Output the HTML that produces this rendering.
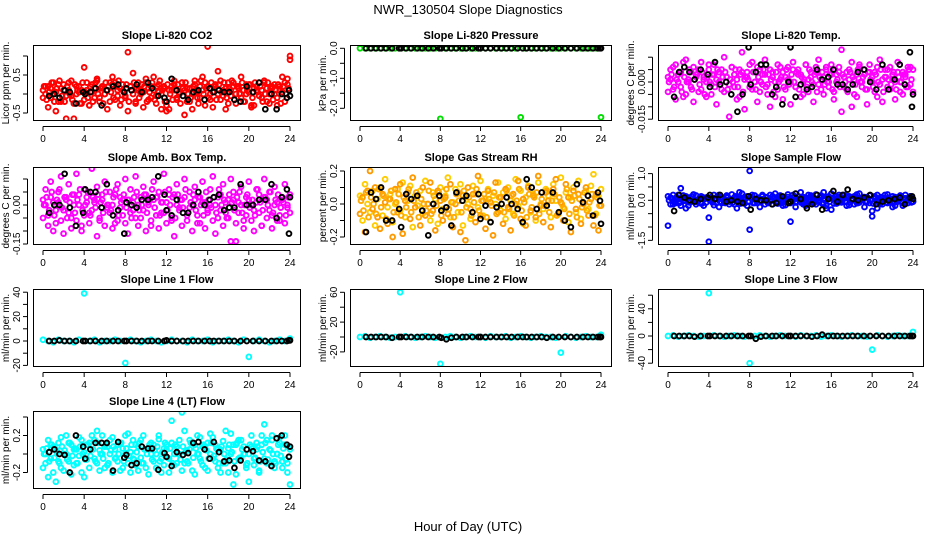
<!DOCTYPE html>
<html><head><meta charset="utf-8"><style>
html,body{margin:0;padding:0;background:#fff}
svg{display:block;font-family:"Liberation Sans",sans-serif}
</style></head><body>
<svg id="chart" width="936" height="540" viewBox="0 0 936 540" xmlns="http://www.w3.org/2000/svg">
<rect width="936" height="540" fill="#fff"/>
<text x="468" y="14" text-anchor="middle" font-size="13">NWR_130504  Slope Diagnostics</text>
<text x="468" y="531" text-anchor="middle" font-size="13">Hour of Day (UTC)</text>
</svg>
<script>
const hoursA=[0,0.25,0.5,0.75,1,1.25,1.5,1.75,2,2.25,2.5,2.75,3,3.25,3.5,3.75,4,4.25,4.5,4.75,5,5.25,5.5,5.75,6,6.25,6.5,6.75,7,7.25,7.5,7.75,8,8.25,8.5,8.75,9,9.25,9.5,9.75,10,10.25,10.5,10.75,11,11.25,11.5,11.75,12,12.25,12.5,12.75,13,13.25,13.5,13.75,14,14.25,14.5,14.75,15,15.25,15.5,15.75,16,16.25,16.5,16.75,17,17.25,17.5,17.75,18,18.25,18.5,18.75,19,19.25,19.5,19.75,20,20.25,20.5,20.75,21,21.25,21.5,21.75,22,22.25,22.5,22.75,23,23.25,23.5,23.75,24];
const hoursC=[0.1,0.35,0.6,0.85,1.1,1.35,1.6,1.85,2.1,2.35,2.6,2.85,3.1,3.35,3.6,3.85,4.1,4.35,4.6,4.85,5.1,5.35,5.6,5.85,6.1,6.35,6.6,6.85,7.1,7.35,7.6,7.85,8.1,8.35,8.6,8.85,9.1,9.35,9.6,9.85,10.1,10.35,10.6,10.85,11.1,11.35,11.6,11.85,12.1,12.35,12.6,12.85,13.1,13.35,13.6,13.85,14.1,14.35,14.6,14.85,15.1,15.35,15.6,15.85,16.1,16.35,16.6,16.85,17.1,17.35,17.6,17.85,18.1,18.35,18.6,18.85,19.1,19.35,19.6,19.85,20.1,20.35,20.6,20.85,21.1,21.35,21.6,21.85,22.1,22.35,22.6,22.85,23.1,23.35,23.6,23.85];
const flatHours=[0,0.5,1,1.5,2,2.5,3,3.5,4,4.5,5,5.5,6,6.5,7,7.5,8,8.5,9,9.5,10,10.5,11,11.5,12,12.5,13,13.5,14,14.5,15,15.5,16,16.5,17,17.5,18,18.5,19,19.5,20,20.5,21,21.5,22,22.5,23,23.5,24];
const blackHours=[0.6,1.1,1.6,2.1,2.6,3.2,3.9,4.1,4.6,5.1,5.7,6.2,6.8,7.3,7.9,8.1,8.6,9.1,9.6,10.2,10.6,11.2,11.8,12.0,12.5,13.0,13.6,14.1,14.6,15.1,15.7,16.2,16.6,17.1,17.6,18.1,18.6,19.2,19.8,20.4,21.0,21.6,22.2,22.7,23.2,23.7,23.9,24.0];
const xTicks=[0,4,8,12,16,20,24];

const co2A=[0.1,0.0,0.2,-0.1,0.3,0.05,-0.2,0.15,0.25,-0.05,0.1,0.35,-0.25,0.0,0.2,0.1,-0.15,0.3,-0.3,0.05,0.15,0.4,-0.1,0.2,0.0,0.1,-0.2,0.25,0.3,-0.05,0.15,0.1,-0.1,1.1,0.2,0.0,-0.25,0.3,0.1,0.05,0.4,-0.15,0.2,0.1,-0.05,0.25,0.0,0.15,-0.3,0.1,0.2,0.35,-0.1,0.05,0.3,0.1,-0.2,0.15,0.0,0.25,-0.1,0.2,0.1,0.3,1.25,-0.15,0.05,0.2,0.0,0.35,-0.05,0.15,-0.25,0.1,0.3,0.0,0.2,-0.1,0.1,0.25,0.05,-0.3,0.15,0.2,-0.05,0.1,0.3,-0.2,0.0,0.15,0.25,-0.1,0.2,0.05,0.3,0.4,1.0];
const co2B=[-0.1,0.2,-0.35,0.15,0.0,-0.45,0.25,-0.2,0.1,-0.65,0.3,-0.05,-0.65,0.2,0.05,-0.25,0.7,0.1,-0.3,0.25,-0.1,0.35,-0.2,0.15,0.0,-0.4,0.3,0.45,-0.15,0.1,-0.3,0.25,-0.05,-0.45,0.2,0.55,-0.2,0.1,0.0,-0.35,0.3,0.15,-0.1,0.45,-0.25,0.05,-0.4,0.2,-0.45,-0.4,0.1,0.25,-0.15,0.0,0.3,-0.55,0.15,-0.2,-0.4,0.35,0.05,-0.1,0.45,-0.3,0.2,0.0,-0.35,0.25,0.6,-0.15,0.1,-0.4,0.3,-0.05,0.2,-0.25,0.15,0.45,-0.2,0.0,0.25,-0.35,-0.3,0.1,0.3,-0.1,0.35,0.15,-0.25,0.2,0.0,-0.3,0.1,0.45,-0.2,0.25,0.9];
const co2C=[0.2,-0.15,0.05,0.3,-0.2,0.15,0.35,-0.05,-0.2,0.2,0.0,-0.15,0.25,0.1,-0.25,0.3,0.05,-0.1,0.2,-0.2,0.3,0.0,0.15,-0.25,0.3,0.2,0.05,-0.1,0.2,0.35,-0.15,0.05,0.25,-0.2,0.1,0.3,0.15,-0.1,0.25,0.2,-0.2,0.05,0.3,-0.15,0.2,0.35,0.1,-0.2,0.25,0.0,-0.15,0.1,0.25,-0.25,0.15,0.3,0.0,-0.1,0.2,0.1,-0.25,0.35,0.0,0.15,-0.1,0.3,0.2,-0.15,0.25,0.05,0.3,-0.1,0.15,0.35,-0.15,0.2,0.0,0.3,-0.2,0.1,0.25,-0.1,0.3,0.05,0.2,-0.2,0.0,0.3,0.15,-0.15,0.1,0.25,-0.25,0.2,0.0,0.15];
const co2Black=[-0.05,0.0,-0.1,0.1,0.05,-0.25,0.05,0.0,0.05,0.15,-0.3,0.1,0.2,0.25,0.05,0.15,0.1,0.25,0.05,0.3,0.15,-0.05,-0.1,-0.2,0.4,0.1,-0.05,-0.15,0.05,0.1,-0.15,0.15,0.05,0.1,0.05,0.05,-0.15,-0.2,0.2,0.05,0.3,-0.4,0.0,-0.4,0.0,-0.1,0.1,-0.05];

const presGreen=[0,0,0,0,0,0,0,0,0,0,0,0,0,0,0,0,-2.35,0,0,0,0,0,0,0,0,0,0,0,0,0,0,0,-2.3,0,0,0,0,0,0,0,0,0,0,0,0,0,0,0,-2.3];
const presBlack=[0,0,0,0,0,0,0,0,0,0,0,0,0,0,0,0,0,0,0,0,0,0,0,0,0,0,0,0,0,0,0,0,0,0,0,0,0,0,0,0,0,0,0,0,0,0,0,0];

const tempA=[0.002,0.005,-0.003,0.007,0.000,0.004,-0.006,0.009,0.001,-0.002,0.006,0.003,-0.004,0.008,0.002,0.000,0.005,-0.005,0.007,0.001,0.004,-0.003,0.010,0.002,-0.001,0.006,0.003,-0.007,0.005,0.012,0.001,0.004,-0.002,0.008,0.000,0.006,-0.004,0.003,0.009,-0.001,0.005,0.002,-0.006,0.007,0.001,0.004,-0.003,0.006,0.000,0.008,-0.002,0.005,0.003,-0.005,0.007,0.001,0.004,-0.001,0.006,0.009,-0.003,0.002,0.005,0.000,0.007,-0.004,0.003,0.006,0.013,-0.002,0.004,0.001,0.008,-0.005,0.003,0.006,0.000,0.005,-0.003,0.007,0.002,0.004,-0.006,0.009,0.001,0.005,-0.002,0.006,0.003,0.000,0.008,-0.004,0.004,0.002,0.006,-0.001,0.005];
const tempB=[-0.004,0.001,0.006,-0.007,0.003,-0.002,0.008,-0.005,0.000,0.004,-0.008,0.002,0.005,-0.003,0.001,-0.006,0.007,-0.001,0.003,-0.009,0.000,0.005,-0.004,0.002,-0.014,0.006,-0.002,0.001,-0.006,0.004,-0.011,0.002,0.007,-0.003,0.000,-0.008,0.005,-0.001,0.003,-0.005,-0.010,0.004,0.000,-0.003,0.006,-0.007,0.002,0.001,-0.009,0.005,-0.002,0.003,-0.006,0.000,0.007,-0.004,0.002,-0.008,0.004,-0.001,0.001,-0.005,0.006,-0.002,0.003,-0.007,0.000,0.004,-0.012,0.002,-0.003,0.005,-0.010,0.001,-0.006,0.007,-0.002,0.003,-0.009,0.004,0.000,-0.004,0.006,-0.001,-0.008,0.002,0.005,-0.003,0.001,-0.007,0.004,0.000,-0.005,0.003,-0.002,0.006,-0.004];
const tempC=[0.000,0.003,-0.002,0.001,0.004,-0.004,0.002,0.000,0.005,-0.003,0.001,0.003,-0.001,0.004,-0.005,0.002,0.000,0.003,-0.002,0.005,-0.001,0.002,0.004,-0.003,0.001,0.000,0.005,-0.002,0.003,-0.004,0.002,0.001,-0.001,0.004,-0.003,0.002,0.000,0.005,-0.002,0.003,0.001,-0.004,0.004,0.000,0.002,-0.002,0.005,-0.001,0.003,0.000,0.004,-0.003,0.002,0.001,-0.002,0.005,0.000,0.003,-0.004,0.002,0.004,-0.001,0.000,0.003,-0.003,0.005,0.001,-0.002,0.003,0.000,-0.004,0.004,0.002,-0.001,0.005,0.000,0.002,-0.003,0.004,0.001,-0.002,0.003,0.000,0.005,-0.004,0.002,0.001,-0.001,0.004,-0.003,0.002,0.000,0.003,-0.002,0.005,0.001,-0.001];
const tempBlack=[-0.006,0.004,0.006,0.004,0.001,0.005,0.003,-0.002,0.008,-0.001,0.000,-0.005,-0.012,-0.005,0.014,-0.001,0.004,0.007,0.007,-0.005,-0.002,-0.009,0.000,0.014,-0.006,-0.001,-0.003,-0.002,0.005,0.001,0.002,0.005,-0.001,-0.001,-0.003,-0.001,0.004,0.005,0.000,-0.003,0.007,-0.003,0.001,0.007,-0.001,0.012,-0.010,-0.005];

const ambA=[0.02,0.06,-0.04,0.09,0.01,-0.07,0.05,0.11,-0.02,0.03,0.08,-0.05,0.0,0.12,0.04,-0.08,0.06,0.01,-0.03,0.14,0.02,0.07,-0.06,0.04,0.09,-0.01,0.05,0.0,-0.07,0.08,0.03,-0.04,0.10,0.02,0.06,-0.02,0.11,0.0,-0.05,0.07,0.04,0.01,-0.08,0.09,0.03,0.05,-0.03,0.12,0.01,0.06,-0.06,0.04,0.08,-0.01,0.02,0.10,-0.04,0.05,0.0,0.07,-0.07,0.03,0.09,0.01,-0.02,0.06,0.11,0.0,-0.05,0.04,0.08,-0.03,0.02,0.10,0.05,-0.14,0.01,0.07,-0.06,0.03,0.09,0.0,-0.02,0.06,0.04,-0.08,0.1,0.02,0.05,-0.04,0.07,0.01,-0.06,0.03,0.08,0.0,0.04];
const ambB=[-0.05,0.0,-0.08,0.03,-0.1,-0.02,0.01,-0.06,-0.11,0.02,-0.03,-0.09,0.04,-0.06,0.0,-0.1,-0.04,0.03,-0.07,-0.02,0.01,-0.12,-0.05,0.02,-0.08,0.0,-0.03,-0.09,0.04,-0.06,-0.01,0.02,-0.07,-0.11,-0.03,0.01,-0.05,-0.08,0.03,-0.02,-0.1,0.0,-0.06,0.02,-0.04,-0.09,0.01,-0.03,-0.07,0.04,-0.05,-0.12,0.0,-0.02,-0.08,0.03,-0.06,-0.01,-0.1,0.02,-0.04,-0.07,0.01,-0.09,-0.03,0.0,-0.06,-0.11,0.03,-0.02,-0.08,0.01,-0.05,-0.14,0.02,-0.07,-0.03,0.0,-0.09,-0.04,0.02,-0.06,-0.1,0.01,-0.03,-0.08,0.03,-0.05,-0.02,-0.09,0.0,-0.06,-0.04,0.02,-0.07,-0.01,-0.03];
const ambC=[0.0,0.03,-0.02,0.05,-0.04,0.02,0.06,-0.01,0.03,-0.05,0.01,0.04,-0.03,0.02,0.06,-0.02,0.0,0.05,-0.04,0.03,-0.01,0.04,0.01,-0.03,0.05,0.0,-0.02,0.03,0.06,-0.04,0.01,0.04,-0.01,0.02,-0.05,0.03,0.05,-0.02,0.0,0.04,-0.03,0.02,0.06,-0.01,0.03,-0.04,0.01,0.05,-0.02,0.0,0.03,-0.05,0.04,0.02,-0.01,0.06,-0.03,0.01,0.04,-0.02,0.03,0.0,-0.04,0.05,0.02,-0.01,0.03,-0.03,0.06,0.0,0.02,-0.05,0.04,0.01,-0.02,0.03,0.05,-0.03,0.0,0.04,-0.01,0.02,-0.04,0.06,0.01,-0.02,0.03,0.0,0.05,-0.03,0.02,0.04,-0.01,0.01,-0.04,0.03,0.0];
const ambBlack=[-0.03,0.0,0.0,0.12,-0.01,-0.08,-0.03,0.06,0.05,0.05,-0.01,0.08,-0.04,-0.02,-0.11,0.01,0.0,-0.01,0.02,0.02,0.03,0.11,0.04,-0.02,-0.04,0.02,-0.03,-0.03,0.0,0.05,0.0,0.02,0.03,0.04,-0.02,-0.01,-0.01,0.08,0.0,0.0,0.02,0.02,0.08,-0.05,0.03,0.06,-0.11,0.03];

const rhA=[0.05,-0.1,0.12,0.0,-0.05,0.08,-0.13,0.03,0.1,-0.07,0.15,-0.02,0.06,-0.11,0.0,0.09,-0.04,0.13,-0.08,0.02,0.11,-0.14,0.05,-0.01,0.08,-0.06,0.14,0.0,-0.1,0.07,0.03,-0.12,0.1,-0.03,0.05,0.16,-0.08,0.01,0.09,-0.05,0.12,-0.13,0.04,0.0,-0.09,0.11,0.06,-0.02,0.14,-0.07,0.03,0.09,-0.11,0.05,0.0,0.13,-0.04,0.07,-0.09,0.1,0.02,-0.06,0.15,-0.01,0.08,-0.12,0.04,0.11,-0.05,0.06,-0.1,0.13,0.0,-0.03,0.09,0.05,-0.08,0.12,0.02,-0.06,0.16,-0.02,0.07,-0.11,0.04,0.1,-0.05,0.14,-0.09,0.01,0.08,-0.03,0.11,0.18,-0.06,0.05,0.09];
const rhB=[-0.06,0.04,-0.17,0.08,0.2,-0.03,0.1,-0.08,-0.15,0.06,0.01,-0.12,0.03,-0.2,0.09,-0.05,0.12,-0.18,0.02,0.07,-0.09,0.16,-0.02,0.05,-0.13,0.1,-0.07,0.0,0.13,-0.04,-0.16,0.08,0.02,-0.1,0.04,-0.06,0.12,-0.14,0.0,0.07,-0.17,0.05,-0.22,0.1,-0.03,0.06,-0.11,0.17,-0.07,0.02,-0.15,0.08,0.01,-0.19,0.13,-0.05,0.04,-0.12,0.09,-0.02,-0.16,0.06,0.0,0.14,-0.09,0.03,-0.13,0.1,-0.04,0.05,-0.08,0.17,-0.01,-0.11,0.07,0.02,-0.14,0.09,0.15,-0.06,0.01,-0.1,0.12,0.04,-0.17,0.08,-0.03,0.06,-0.12,0.0,0.1,-0.07,0.03,-0.13,0.06,-0.16,-0.01];
const rhC=[0.02,-0.04,0.07,-0.08,0.04,0.0,-0.06,0.09,-0.02,0.05,-0.09,0.03,0.08,-0.05,0.01,0.06,-0.07,0.04,-0.02,0.09,-0.05,0.02,0.07,-0.08,0.03,0.0,-0.04,0.08,-0.06,0.05,-0.01,0.07,-0.07,0.03,0.09,-0.03,0.01,-0.08,0.06,0.02,-0.05,0.08,-0.02,0.04,-0.07,0.01,0.09,-0.04,0.02,0.06,-0.08,0.03,-0.01,0.07,-0.06,0.04,0.0,-0.05,0.08,-0.03,0.05,-0.07,0.02,0.09,-0.04,0.01,-0.08,0.06,-0.02,0.04,0.07,-0.06,0.03,-0.01,0.08,-0.05,0.02,0.06,-0.07,0.04,0.0,-0.03,0.09,-0.06,0.02,0.05,-0.08,0.03,-0.02,0.07,-0.04,0.01,0.06,-0.07,0.04,-0.01];
const rhBlack=[-0.17,0.07,0.03,0.1,-0.1,-0.1,-0.03,-0.14,0.06,0.03,0.05,-0.04,-0.19,0.0,0.05,-0.04,-0.02,-0.13,0.07,0.02,0.05,-0.05,0.06,-0.09,-0.01,-0.11,-0.02,0.0,0.04,0.0,-0.03,-0.11,0.15,0.1,-0.03,0.07,-0.01,0.07,-0.05,-0.1,-0.14,0.12,0.01,0.05,-0.07,0.07,0.02,-0.12];

const sampA=[-0.95,0.1,-0.15,0.05,0.2,0.45,0.0,0.15,-0.2,0.08,-0.05,0.18,0.02,-0.12,0.1,-0.08,-0.65,0.12,-0.18,0.05,0.2,-0.1,0.0,0.15,-0.05,0.22,-0.15,0.08,0.3,-0.02,0.12,-0.2,1.1,0.05,0.18,-0.1,0.0,0.2,-0.15,0.1,-0.05,0.15,0.25,-0.12,0.08,0.0,-0.18,0.12,-0.8,0.2,-0.08,0.05,0.3,-0.15,0.1,0.0,0.18,-0.1,0.22,-0.05,0.12,0.3,-0.2,0.05,0.25,-0.12,0.15,0.0,-0.08,0.2,0.1,-0.18,0.05,0.15,-0.1,0.25,0.0,0.12,-0.05,0.18,-0.6,0.08,0.2,-0.15,0.1,0.0,0.22,-0.08,0.15,-0.2,0.05,0.12,-0.1,0.2,0.0,0.15,-0.05];
const sampB=[0.15,-0.15,0.2,-0.1,0.05,-0.2,0.18,-0.3,0.1,-0.05,0.22,-0.15,0.0,0.15,-0.2,0.08,-1.55,0.0,0.2,-0.1,-0.25,0.12,-0.05,0.18,-0.15,0.0,0.1,-0.3,0.05,0.25,-0.12,0.15,-1.1,0.2,-0.1,0.05,-0.25,0.15,0.0,-0.08,0.2,-0.15,0.1,-0.05,0.18,-0.2,0.05,0.22,-0.1,0.0,-0.25,0.15,-0.08,0.12,-0.2,0.2,-0.05,0.1,-0.15,0.0,0.18,-0.1,-0.3,0.15,-0.35,0.08,-0.12,0.2,-0.05,0.1,-0.2,0.15,0.0,-0.15,0.22,-0.08,0.05,-0.25,0.12,-0.1,-0.4,0.15,-0.3,0.05,-0.15,0.2,-0.1,0.0,-0.25,0.12,-0.05,0.18,-0.2,0.08,-0.1,0.15,-0.05];
const sampC=[0.0,0.08,-0.05,0.12,-0.1,0.05,-0.02,0.1,-0.08,0.15,0.0,-0.06,0.1,-0.12,0.05,0.12,0.0,-0.08,0.08,0.15,-0.05,0.05,-0.1,0.1,0.02,-0.08,0.15,0.0,-0.12,0.08,0.05,-0.05,0.12,-0.1,0.02,0.1,-0.06,0.05,0.12,-0.1,0.0,0.08,-0.05,0.15,-0.1,0.1,0.02,-0.08,0.05,0.12,-0.05,0.0,0.1,-0.1,0.08,-0.02,0.15,-0.08,0.05,0.1,-0.12,0.0,0.12,-0.05,0.08,0.02,-0.1,0.12,0.0,-0.06,0.15,-0.08,0.05,0.1,-0.1,0.02,0.12,-0.05,0.08,0.0,-0.12,0.1,-0.05,0.12,0.02,-0.08,0.1,0.05,-0.1,0.0,0.12,-0.06,0.08,-0.02,0.1,-0.08];
const sampBlack=[-0.4,0.2,0.1,0.0,-0.05,0.05,0.1,0.2,0.05,0.2,-0.05,0.0,-0.05,-0.1,0.15,-0.35,0.05,0.0,0.0,-0.15,-0.1,0.15,-0.1,-0.05,0.25,0.05,-0.3,-0.15,0.2,-0.35,0.05,0.35,-0.05,0.2,0.4,0.05,0.0,0.1,0.2,-0.15,-0.05,0.0,0.05,0.1,-0.15,0.1,0.15,0.05];

const line1Cyan=[1,0,-1,1,0,0,-1,1,39,0,1,-1,0,0,1,0,-18,1,0,-1,0,1,0,-1,0,1,0,0,-1,1,0,0,1,-1,0,0,1,0,-1,1,-13,0,1,0,-1,0,1,0,2];
const line1Black=[0,0,0.5,0,0,0,0,0,0,0,0,0,0,0,0,0,0,0,0,0,0,0,0,0.5,0,0,0,0,0,0,0,0,0,0,0,0,0,0,0,0,0,0,0,0,0,0,0.5,0.5];
const line2Cyan=[0,1,-1,0,1,0,-1,0,60,1,0,-1,0,1,0,-1,-36,0,1,0,-1,0,1,0,0,-1,1,0,0,1,-1,0,1,0,-1,0,1,0,0,-1,-21,1,0,-1,0,1,0,0,3];
const line2Black=[0,0,0,0,0,-1,0,0,0,0,0,0,0,0,0,-1,-3,-1,0,0,0,0,0,0,0,0,0,0,0,0,0,0,0,0,0,0,-1,0,0,0,0,0,0,0,0,0,0,0];
const line3Cyan=[0,1,-1,0,1,0,-1,0,63,1,0,-1,0,1,0,-1,-40,0,1,0,-1,0,1,0,0,-1,1,0,0,1,-1,0,1,0,-1,0,1,0,0,-1,-20,1,0,-1,0,1,0,0,6];
const line3Black=[0,0,0,0,-1,0,0,0,0,0,0,0,0,0,0,0,-4,-1,0,0,0,0,0,0,0,0,0,-1,0,2,0,0,0,0,0,0,0,0,0,0,0,0,0,0,0,0,0,0];

const line4A=[0.05,-0.1,0.15,-0.05,0.08,-0.3,0.12,-0.15,0.0,0.2,-0.08,0.1,-0.12,0.05,0.18,-0.2,0.02,-0.06,0.12,-0.42,0.15,-0.1,0.04,0.2,-0.15,0.08,0.0,0.18,-0.05,0.1,-0.18,0.06,0.2,-0.1,0.02,0.15,-0.12,0.08,-0.04,0.2,-0.15,0.05,0.12,-0.08,0.0,0.16,-0.2,0.06,0.1,-0.05,0.36,-0.12,0.08,0.0,0.45,-0.1,0.04,0.15,-0.18,0.1,0.2,-0.05,0.08,-0.15,0.12,0.0,0.18,-0.08,0.05,-0.2,0.14,-0.1,0.06,0.22,-0.33,0.1,-0.05,0.15,0.0,-0.12,-0.3,0.08,-0.05,0.12,-0.18,0.2,0.32,-0.1,0.05,0.15,-0.08,0.0,0.18,-0.15,0.1,-0.2,-0.33];
const line4B=[-0.15,0.0,-0.25,0.1,-0.2,0.05,-0.08,0.18,-0.18,0.0,0.12,-0.22,0.05,-0.1,-0.02,0.15,-0.25,0.1,-0.15,0.2,-0.05,0.25,-0.18,0.0,0.08,-0.12,0.15,-0.2,0.05,-0.08,0.12,-0.15,0.0,0.22,-0.2,-0.05,0.1,-0.18,0.15,-0.1,0.05,-0.22,0.0,0.1,-0.15,0.2,-0.05,-0.12,0.05,-0.2,0.12,0.0,-0.1,0.15,-0.18,0.25,-0.08,0.05,0.12,-0.22,0.0,0.18,-0.12,0.08,-0.18,0.22,-0.05,0.1,-0.15,0.05,-0.1,0.25,-0.2,0.0,0.1,-0.22,0.15,-0.05,0.08,-0.15,0.0,0.2,-0.12,0.05,-0.2,0.1,-0.05,0.15,-0.1,0.2,-0.15,0.0,0.12,-0.08,0.2,-0.1,0.05];
const line4C=[0.0,0.06,-0.08,0.1,-0.04,0.02,-0.1,0.08,0.04,-0.06,0.12,-0.02,0.06,-0.1,0.08,0.0,-0.06,0.1,-0.02,0.05,-0.08,0.12,0.0,-0.05,0.1,-0.1,0.04,0.08,-0.04,0.0,0.12,-0.08,0.06,-0.02,0.1,-0.06,0.02,0.12,-0.1,0.05,0.0,0.1,-0.06,0.04,0.08,-0.08,0.02,0.12,-0.04,0.06,-0.1,0.1,0.0,-0.06,0.08,0.02,-0.1,0.12,-0.04,0.06,0.0,-0.08,0.1,0.04,-0.05,0.12,-0.02,0.06,-0.1,0.08,0.0,-0.06,0.1,0.02,-0.08,0.12,-0.04,0.05,0.0,-0.1,0.1,0.06,-0.04,0.08,-0.08,0.02,0.12,-0.06,0.04,0.0,-0.1,0.1,-0.02,0.06,-0.06,0.08,0.0];
const line4Black=[0.02,0.05,0.0,-0.01,-0.2,0.2,0.08,-0.05,0.05,0.12,0.12,0.12,-0.18,0.13,-0.04,-0.01,-0.12,-0.1,0.08,0.06,0.06,-0.17,0.01,-0.03,-0.13,0.02,-0.01,0.01,0.12,0.13,0.05,-0.05,0.13,0.02,-0.08,-0.07,-0.15,-0.07,0.05,0.03,-0.07,-0.08,-0.13,0.17,0.2,0.1,-0.03,0.08];

const yTicks1=[-0.5,0,0.5,1.0], yLab1=["-0.5","","0.5",""];
const yTicks2=[0,-0.5,-1,-1.5,-2], yLab2=["0.0","","-1.0","","-2.0"];
const yTicks3=[0.010,0.005,0,-0.005,-0.010,-0.015], yLab3=["","","0.000","","","-0.015"];
const yTicks4=[0.10,0.05,0,-0.05,-0.10,-0.15], yLab4=["","","0.00","","","-0.15"];
const yTicks5=[0.2,0.1,0,-0.1,-0.2], yLab5=["0.2","","0.0","","-0.2"];
const yTicks6=[1,0.5,0,-0.5,-1,-1.5], yLab6=["1.0","","0.0","","","-1.5"];
const yTicks7=[40,30,20,10,0,-10,-20], yLab7=["40","","20","","0","","-20"];
const yTicks8=[60,40,20,0,-20], yLab8=["60","","20","","-20"];
const yTicks9=[60,40,20,0,-20,-40], yLab9=["","40","","0","","-40"];
const yTicks10=[0.4,0.2,0,-0.2], yLab10=["","0.2","","-0.2"];

const NS="http://www.w3.org/2000/svg";
const svg=document.getElementById('chart');
function el(tag,attrs,parent){const e=document.createElementNS(NS,tag);for(const k in attrs)e.setAttribute(k,attrs[k]);(parent||svg).appendChild(e);return e;}

const cols=[{l:33,r:301},{l:350,r:612},{l:658,r:924}];
const rows=[{t:45,b:121},{t:167,b:245},{t:289,b:367},{t:411,b:489}];

const panels=[
 {name:'co2',title:'Slope Li-820 CO2',ylab:'Licor ppm per min.',c:0,rw:0,zero:94,ppu:38,ticks:yTicks1,labs:yLab1,
  series:[{h:hoursA,v:co2A,col:'#ff0000'},{h:hoursA,v:co2B,col:'#ff0000'},{h:hoursC,v:co2C,col:'#ff0000'},{h:blackHours,v:co2Black,col:'#000'}]},
 {name:'pressure',title:'Slope Li-820 Pressure',ylab:'kPa per min.',c:1,rw:0,zero:48.3,ppu:30,ticks:yTicks2,labs:yLab2,
  series:[{h:flatHours,v:presGreen,col:'#00dd00'},{h:blackHours,v:presBlack,col:'#000'}]},
 {name:'temp',title:'Slope Li-820 Temp.',ylab:'degrees C per min.',c:2,rw:0,zero:82,ppu:2480,ticks:yTicks3,labs:yLab3,
  series:[{h:hoursA,v:tempA,col:'#ff00ff'},{h:hoursA,v:tempB,col:'#ff00ff'},{h:hoursC,v:tempC,col:'#ff00ff'},{h:blackHours,v:tempBlack,col:'#000'}]},
 {name:'amb-box-temp',title:'Slope Amb. Box Temp.',ylab:'degrees C per min.',c:0,rw:1,zero:205,ppu:260,ticks:yTicks4,labs:yLab4,
  series:[{h:hoursA,v:ambA,col:'#ff00ff'},{h:hoursA,v:ambB,col:'#ff00ff'},{h:hoursC,v:ambC,col:'#ff00ff'},{h:blackHours,v:ambBlack,col:'#000'}]},
 {name:'gas-rh',title:'Slope Gas Stream RH',ylab:'percent per min.',c:1,rw:1,zero:204,ppu:165,ticks:yTicks5,labs:yLab5,
  series:[{h:hoursA,v:rhA,col:'#ffcc00'},{h:hoursA,v:rhB,col:'#ff9900'},{h:hoursC,v:rhC,col:'#ffaa00'},{h:blackHours,v:rhBlack,col:'#000'}]},
 {name:'sample-flow',title:'Slope Sample Flow',ylab:'ml/min per min.',c:2,rw:1,zero:200.3,ppu:26.7,ticks:yTicks6,labs:yLab6,
  series:[{h:hoursA,v:sampA,col:'#0000ff'},{h:hoursA,v:sampB,col:'#0000ff'},{h:hoursC,v:sampC,col:'#0000ff'},{h:blackHours,v:sampBlack,col:'#000'}]},
 {name:'line1-flow',title:'Slope Line 1 Flow',ylab:'ml/min per min.',c:0,rw:2,zero:341,ppu:1.22,ticks:yTicks7,labs:yLab7,
  series:[{h:flatHours,v:line1Cyan,col:'#00ffff'},{h:blackHours,v:line1Black,col:'#000'}]},
 {name:'line2-flow',title:'Slope Line 2 Flow',ylab:'ml/min per min.',c:1,rw:2,zero:337,ppu:0.745,ticks:yTicks8,labs:yLab8,
  series:[{h:flatHours,v:line2Cyan,col:'#00ffff'},{h:blackHours,v:line2Black,col:'#000'}]},
 {name:'line3-flow',title:'Slope Line 3 Flow',ylab:'ml/min per min.',c:2,rw:2,zero:336,ppu:0.68,ticks:yTicks9,labs:yLab9,
  series:[{h:flatHours,v:line3Cyan,col:'#00ffff'},{h:blackHours,v:line3Black,col:'#000'}]},
 {name:'line4-flow',title:'Slope Line 4 (LT) Flow',ylab:'ml/min per min.',c:0,rw:3,zero:454,ppu:92.5,ticks:yTicks10,labs:yLab10,
  series:[{h:hoursA,v:line4A,col:'#00ffff'},{h:hoursA,v:line4B,col:'#00ffff'},{h:hoursC,v:line4C,col:'#00ffff'},{h:blackHours,v:line4Black,col:'#000'}]}
];

panels.forEach(p=>{
  const L=cols[p.c].l,R=cols[p.c].r,T=rows[p.rw].t,B=rows[p.rw].b;
  const x0=L+10,x24=R-11;
  const xs=h=>x0+(x24-x0)*h/24;
  const ys=v=>p.zero-v*p.ppu;
  const g=el('g',{});
  
  
  const t=el('text',{x:(L+R)/2,y:T-6,'text-anchor':'middle','font-size':'11','font-weight':'bold'},g);
  t.textContent=p.title;
  
  
  const clip=el('clipPath',{id:'clip-'+p.name},g);
  el('rect',{x:L,y:T,width:R-L,height:B-T},clip);
  const pts=el('g',{'clip-path':'url(#clip-'+p.name+')'},g);
  
  
  p.series.forEach(s=>{
    const n=Math.min(s.h.length,s.v.length);
    for(let i=0;i<n;i++){
      const c=el('circle',{cx:xs(s.h[i]),cy:ys(s.v[i]),r:2.4,fill:'none',stroke:s.col,'stroke-width':1.9},pts);
      
      
    }
  });
  const box=el('rect',{x:L+0.5,y:T+0.5,width:R-L-1,height:B-T-1,fill:'none',stroke:'#000','stroke-width':1},g);
  
  
  el('line',{x1:xs(0),x2:xs(24),y1:B+5.5,y2:B+5.5,stroke:'#000'},g);
  xTicks.forEach(h=>{
    el('line',{x1:xs(h),x2:xs(h),y1:B+5.5,y2:B+10,stroke:'#000'},g);
    const tl=el('text',{x:xs(h),y:B+21,'text-anchor':'middle','font-size':'10'},g);
    tl.textContent=String(h);
    
    
  });
  const yt=p.ticks.map(ys);
  el('line',{x1:L-5.5,x2:L-5.5,y1:Math.min(...yt),y2:Math.max(...yt),stroke:'#000'},g);
  p.ticks.forEach((v,i)=>{
    el('line',{x1:L-10,x2:L-5.5,y1:ys(v),y2:ys(v),stroke:'#000'},g);
    if(p.labs[i]){
      const yl=el('text',{x:0,y:0,'text-anchor':'middle','font-size':'10',transform:`translate(${L-13},${ys(v)}) rotate(-90)`},g);
      yl.textContent=p.labs[i];
      
      
    }
  });
  const ya=el('text',{x:0,y:0,'text-anchor':'middle','font-size':'10',transform:`translate(${L-24},${(T+B)/2}) rotate(-90)`},g);
  ya.textContent=p.ylab;
  
  
});
</script>
</body></html>
